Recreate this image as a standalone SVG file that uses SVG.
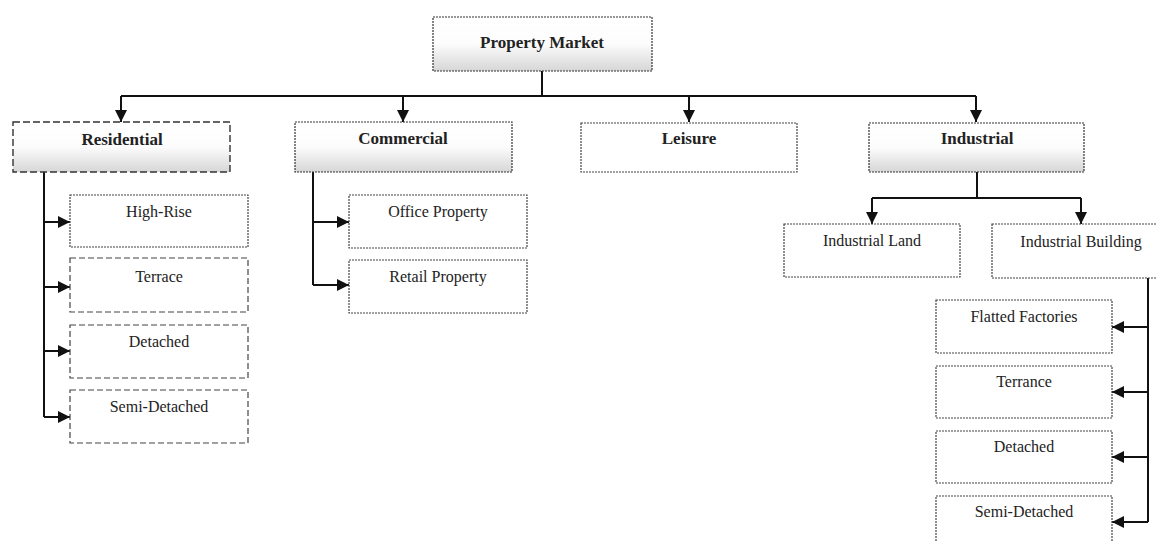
<svg xmlns="http://www.w3.org/2000/svg" width="1157" height="542" viewBox="0 0 1157 542">
<style>
.lbl{font-family:"Liberation Serif","Times New Roman",serif;fill:#222;text-anchor:middle}
.top{font-size:17px;font-weight:bold}
.sub{font-size:16px}
.shaded{fill:url(#shade);stroke:#333;stroke-width:1.2;stroke-dasharray:2 1}
.plain{fill:#fff;stroke:#444;stroke-width:1.2;stroke-dasharray:2 1}
.dashed{fill:#fff;stroke:#444;stroke-width:1.2;stroke-dasharray:6 3}
.dashedshade{fill:url(#shade);stroke:#333;stroke-width:1.4;stroke-dasharray:7 3}
.conn{fill:none;stroke:#111;stroke-width:2}
</style>
<defs>
<linearGradient id="shade" x1="0" y1="0" x2="0" y2="1">
<stop offset="0" stop-color="#fff"/>
<stop offset="0.5" stop-color="#fcfcfc"/>
<stop offset="1" stop-color="#d6d6d6"/>
</linearGradient>
<marker id="arr" markerUnits="userSpaceOnUse" markerWidth="12" markerHeight="12" viewBox="0 0 12 12" refX="12" refY="6" orient="auto">
<path d="M0,0 L12,6 L0,12 Z" fill="#111"/>
</marker>
</defs>

<g id="connectors">
<path class="conn" d="M542,71 V96"/>
<path class="conn" d="M121,96 H976"/>
<path class="conn" d="M121,96 V122" marker-end="url(#arr)"/>
<path class="conn" d="M403,96 V122" marker-end="url(#arr)"/>
<path class="conn" d="M689,96 V122" marker-end="url(#arr)"/>
<path class="conn" d="M976,96 V122" marker-end="url(#arr)"/>
<path class="conn" d="M44,172 V417"/>
<path class="conn" d="M44,222 H70" marker-end="url(#arr)"/>
<path class="conn" d="M44,287 H70" marker-end="url(#arr)"/>
<path class="conn" d="M44,351 H70" marker-end="url(#arr)"/>
<path class="conn" d="M44,417 H70" marker-end="url(#arr)"/>
<path class="conn" d="M313,172 V285"/>
<path class="conn" d="M313,222 H349" marker-end="url(#arr)"/>
<path class="conn" d="M313,285 H349" marker-end="url(#arr)"/>
<path class="conn" d="M977,172 V198"/>
<path class="conn" d="M872,198 H1081"/>
<path class="conn" d="M872,198 V224" marker-end="url(#arr)"/>
<path class="conn" d="M1081,198 V224" marker-end="url(#arr)"/>
<path class="conn" d="M1148,278 V522"/>
<path class="conn" d="M1148,327 H1112" marker-end="url(#arr)"/>
<path class="conn" d="M1148,392 H1112" marker-end="url(#arr)"/>
<path class="conn" d="M1148,457 H1112" marker-end="url(#arr)"/>
<path class="conn" d="M1148,522 H1112" marker-end="url(#arr)"/>
</g>

<g id="property-market"><rect class="shaded" x="433" y="17" width="219" height="54"/><text class="lbl top" x="542" y="48">Property Market</text></g>

<g id="residential"><rect class="dashedshade" x="13" y="122" width="217" height="50"/><text class="lbl top" x="122" y="145">Residential</text></g>
<g id="commercial"><rect class="shaded" x="295" y="122" width="217" height="50"/><text class="lbl top" x="403" y="144">Commercial</text></g>
<g id="leisure"><rect class="plain" x="581" y="123" width="216" height="49"/><text class="lbl top" x="689" y="144">Leisure</text></g>
<g id="industrial"><rect class="shaded" x="869" y="123" width="215" height="49"/><text class="lbl top" x="977" y="144">Industrial</text></g>

<g id="high-rise"><rect class="plain" x="70" y="195" width="178" height="52"/><text class="lbl sub" x="159" y="217">High-Rise</text></g>
<g id="terrace"><rect class="dashed" x="70" y="258" width="178" height="54"/><text class="lbl sub" x="159" y="282">Terrace</text></g>
<g id="detached-res"><rect class="dashed" x="70" y="325" width="178" height="53"/><text class="lbl sub" x="159" y="347">Detached</text></g>
<g id="semi-detached-res"><rect class="dashed" x="70" y="390" width="178" height="53"/><text class="lbl sub" x="159" y="412">Semi-Detached</text></g>

<g id="office-property"><rect class="plain" x="349" y="195" width="178" height="53"/><text class="lbl sub" x="438" y="217">Office Property</text></g>
<g id="retail-property"><rect class="plain" x="349" y="260" width="178" height="53"/><text class="lbl sub" x="438" y="282">Retail Property</text></g>

<g id="industrial-land"><rect class="plain" x="784" y="224" width="176" height="53"/><text class="lbl sub" x="872" y="246">Industrial Land</text></g>
<g id="industrial-building"><rect class="plain" x="992" y="224" width="178" height="54"/><text class="lbl sub" x="1081" y="247">Industrial Building</text></g>

<g id="flatted-factories"><rect class="plain" x="936" y="300" width="176" height="53"/><text class="lbl sub" x="1024" y="322">Flatted Factories</text></g>
<g id="terrance"><rect class="plain" x="936" y="366" width="176" height="52"/><text class="lbl sub" x="1024" y="387">Terrance</text></g>
<g id="detached-ind"><rect class="plain" x="936" y="431" width="176" height="52"/><text class="lbl sub" x="1024" y="452">Detached</text></g>
<g id="semi-detached-ind"><rect class="plain" x="936" y="496" width="176" height="52"/><text class="lbl sub" x="1024" y="517">Semi-Detached</text></g>
</svg>
